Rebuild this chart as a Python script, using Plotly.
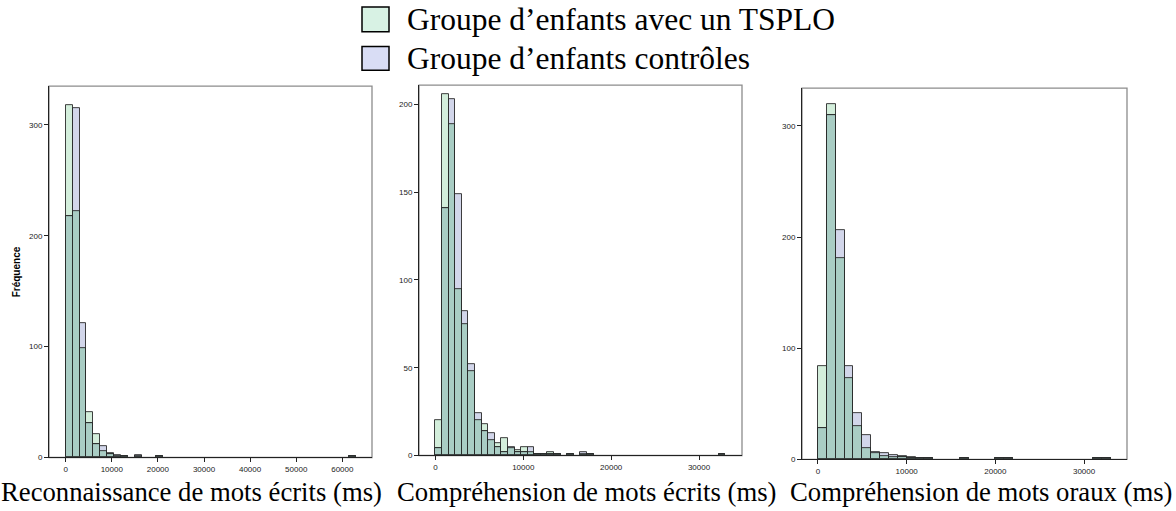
import numpy as np
import plotly.graph_objects as go

W, H = 1176, 511

# Bin widths (ms) of each histogram
bin_reco_ecrit = 1500
bin_comp_ecrit = 750
bin_comp_oral = 1000

# Counts per bin, starting at 0 ms: TSPLO group and control group
tsplo_reco_ecrit = [318, 222, 99, 41, 21, 6, 4, 1, 1, 0, 1, 0, 0, 1] + [0] * 27 + [1]
ctrl_reco_ecrit = [218, 315, 121, 31, 12, 10, 3, 2, 1, 0, 2, 0, 0, 1] + [0] * 27 + [1]

tsplo_comp_ecrit = [20, 206, 189, 95, 75, 48, 20, 18, 9, 7, 10, 4, 3, 5, 2, 1, 1, 2, 1, 0,
                    1, 0, 1, 1] + [0] * 19 + [1]
ctrl_comp_ecrit = [4, 141, 203, 149, 82, 52, 24, 14, 13, 5, 2, 5, 2, 2, 5, 1, 1, 1, 1, 0,
                   1, 0, 2, 1] + [0] * 19 + [1]

tsplo_comp_oral = [84, 320, 181, 73, 30, 10, 6, 3, 2, 3, 2, 1, 1, 0, 0, 0, 1, 0, 0, 0,
                   1, 1] + [0] * 9 + [1, 1]
ctrl_comp_oral = [28, 310, 206, 84, 42, 22, 7, 6, 4, 2, 1, 1, 1, 0, 0, 0, 1, 0, 0, 0,
                  1, 1] + [0] * 9 + [1, 1]

x_titles = ["Reconnaissance de mots écrits (ms)",
            "Compréhension de mots écrits (ms)",
            "Compréhension de mots oraux (ms)"]
legend_labels = ["Groupe d\u2019enfants avec un TSPLO", "Groupe d\u2019enfants contrôles"]

GREEN = "#d3eedb"
BLUE = "#d2d6ea"
OVERLAP = "#a9cdc4"
EDGE = "rgba(30,30,30,0.85)"

panels = [
    dict(tsplo=tsplo_reco_ecrit, ctrl=ctrl_reco_ecrit, width=bin_reco_ecrit,
         xdom=(49, 372), ydom=(87, 462), xrange=(-3620, 66440), yrange=(0, 335),
         xticks=[0, 10000, 20000, 30000, 40000, 50000, 60000], yticks=[0, 100, 200, 300],
         label_x=191),
    dict(tsplo=tsplo_comp_ecrit, ctrl=ctrl_comp_ecrit, width=bin_comp_ecrit,
         xdom=(419, 742), ydom=(86, 460), xrange=(-1870, 34890), yrange=(0, 211),
         xticks=[0, 10000, 20000, 30000], yticks=[0, 50, 100, 150, 200],
         label_x=587),
    dict(tsplo=tsplo_comp_oral, ctrl=ctrl_comp_oral, width=bin_comp_oral,
         xdom=(802, 1127), ydom=(89, 464), xrange=(-1800, 34840), yrange=(0, 334),
         xticks=[0, 10000, 20000, 30000], yticks=[0, 100, 200, 300],
         label_x=981),
]

fig = go.Figure()
shapes = []
annotations = []
tick_font = dict(family="Liberation Sans, Arial", size=8, color="#222222")

for k, p in enumerate(panels, start=1):
    xa = "x" if k == 1 else f"x{k}"
    ya = "y" if k == 1 else f"y{k}"
    g = np.array(p["tsplo"], dtype=float)
    b = np.array(p["ctrl"], dtype=float)
    centers = (np.arange(len(g)) + 0.5) * p["width"]
    both = np.minimum(g, b)

    for vals, color in ((g, GREEN), (b, BLUE), (both, OVERLAP)):
        keep = vals > 0
        fig.add_trace(go.Bar(
            x=centers[keep], y=vals[keep], width=p["width"],
            marker=dict(color=color, line=dict(color=EDGE, width=1)),
            xaxis=xa, yaxis=ya, showlegend=False, hoverinfo="x+y",
        ))

    xkey = "xaxis" if k == 1 else f"xaxis{k}"
    ykey = "yaxis" if k == 1 else f"yaxis{k}"
    fig.update_layout({
        xkey: dict(domain=[p["xdom"][0] / W, p["xdom"][1] / W], anchor=ya,
                   range=list(p["xrange"]), tickvals=p["xticks"],
                   ticktext=[str(v) for v in p["xticks"]],
                   showline=True, linecolor="#222222", linewidth=1,
                   ticks="outside", ticklen=4, tickcolor="#222222",
                   showgrid=False, zeroline=False, tickfont=tick_font),
        ykey: dict(domain=[1 - p["ydom"][1] / H, 1 - p["ydom"][0] / H], anchor=xa,
                   range=list(p["yrange"]), tickvals=p["yticks"],
                   showline=True, linecolor="#222222", linewidth=1,
                   ticks="outside", ticklen=4, tickcolor="#222222",
                   showgrid=False, zeroline=False, tickfont=tick_font),
    })

    # grey frame around the plotting area
    shapes.append(dict(type="rect", xref=f"{xa} domain", yref=f"{ya} domain",
                       x0=0, x1=1, y0=0, y1=1, line=dict(color="#8c8c8c", width=1.3),
                       layer="below"))

    annotations.append(dict(text=x_titles[k - 1], xref="paper", yref="paper",
                            x=p["label_x"] / W, y=1 - 497 / H, showarrow=False,
                            xanchor="center", yanchor="middle",
                            font=dict(family="Liberation Serif, Times New Roman",
                                      size=26.7, color="black")))

annotations.append(dict(text="<b>Fréquence</b>", xref="paper", yref="paper",
                        x=16 / W, y=1 - 275 / H, textangle=-90, showarrow=False,
                        xanchor="center", yanchor="middle",
                        font=dict(family="Liberation Sans, Arial", size=10, color="black")))

# legend drawn as swatches with text
legend_rows = [(7, 32, "#d8f2e4"), (47, 71, "#d9ddf5")]
for (top, bottom, color), label in zip(legend_rows, legend_labels):
    shapes.append(dict(type="rect", xref="paper", yref="paper",
                       x0=362 / W, x1=389 / W, y0=1 - bottom / H, y1=1 - top / H,
                       fillcolor=color, line=dict(color="black", width=1.5)))
    annotations.append(dict(text=label, xref="paper", yref="paper",
                            x=405 / W, y=1 - (top + bottom) / 2 / H, showarrow=False,
                            xanchor="left", yanchor="middle",
                            font=dict(family="Liberation Serif, Times New Roman",
                                      size=31.5, color="black")))

fig.update_layout(
    width=W, height=H, margin=dict(l=0, r=0, t=0, b=0),
    paper_bgcolor="white", plot_bgcolor="white",
    barmode="overlay", bargap=0,
    shapes=shapes, annotations=annotations,
    showlegend=False,
)

fig.write_html("out.html")
